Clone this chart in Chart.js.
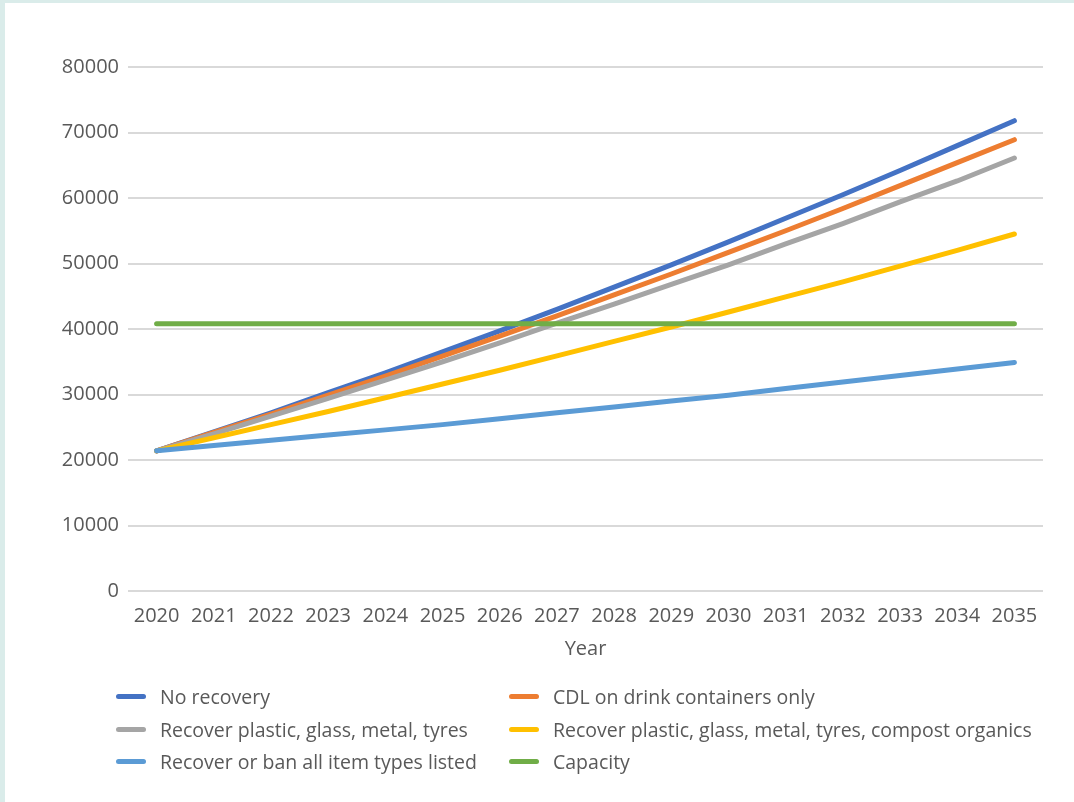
<!DOCTYPE html>
<html lang="en">
<head>
    <meta charset="UTF-8">
    <title>Landfill projection</title>
    <script src="https://cdn.jsdelivr.net/npm/chart.js"></script>
    <style>
        body{margin:0;background:#daecea;width:1074px;height:802px;overflow:hidden;font-family:'Open Sans',sans-serif;}
        .box{position:absolute;left:5px;top:3px;width:1069px;height:799px;background:#fff;}
        .chart-wrap{position:absolute;left:0;top:0;width:1069px;height:658px;}
        .legend{position:absolute;left:0;top:0;width:1069px;height:799px;pointer-events:none;}
        .legend-item{position:absolute;display:flex;align-items:center;color:#595959;font-size:19.5px;white-space:nowrap;}
        .legend-item span.swatch{display:inline-block;width:30px;height:5px;border-radius:3px;margin-right:14px;}
    </style>
</head>
<body>
    <div class="box">
        <div class="chart-wrap"><canvas id="chart"></canvas></div>
        <div class="legend" id="legend"></div>
    </div>
    <script>
        const years = ['2020','2021','2022','2023','2024','2025','2026','2027','2028','2029','2030','2031','2032','2033','2034','2035'];

        const noRecovery = [21400, 24300, 27200, 30300, 33300, 36500, 39700, 43000, 46400, 49800, 53300, 56900, 60500, 64200, 68000, 71800];
        const cdlOnly = [21400, 24200, 27000, 29900, 32800, 35850, 38900, 42000, 45200, 48400, 51700, 55000, 58400, 61900, 65400, 68900];
        const recoverPgmt = [21400, 24000, 26700, 29400, 32200, 35000, 37900, 40900, 43800, 46800, 49800, 53000, 56100, 59400, 62600, 66100];
        const recoverPgmtCompost = [21400, 23400, 25400, 27400, 29500, 31600, 33700, 35900, 38100, 40300, 42600, 44900, 47200, 49600, 52000, 54500];
        const recoverOrBanAll = [21400, 22200, 23000, 23800, 24600, 25400, 26300, 27200, 28100, 29000, 29900, 30900, 31900, 32900, 33900, 34900];
        const capacity = [40800, 40800, 40800, 40800, 40800, 40800, 40800, 40800, 40800, 40800, 40800, 40800, 40800, 40800, 40800, 40800];

        const seriesNames = ['No recovery', 'CDL on drink containers only', 'Recover plastic, glass, metal, tyres', 'Recover plastic, glass, metal, tyres, compost organics', 'Recover or ban all item types listed', 'Capacity'];
        const seriesData = [noRecovery, cdlOnly, recoverPgmt, recoverPgmtCompost, recoverOrBanAll, capacity];
        const seriesColors = ['#4472C4', '#ED7D31', '#A5A5A5', '#FFC000', '#5B9BD5', '#70AD47'];

        const yMax = 80000;
        const yStep = 10000;
        const textColor = '#595959';
        const fontFamily = "'Open Sans', sans-serif";

        const datasets = seriesNames.map((name, i) => ({
            label: name,
            data: seriesData[i],
            borderColor: seriesColors[i],
            backgroundColor: seriesColors[i],
            borderWidth: 5,
            borderCapStyle: 'round',
            borderJoinStyle: 'round',
            pointRadius: 0,
            tension: 0,
            order: seriesNames.length - i
        }));

        new Chart(document.getElementById('chart'), {
            type: 'line',
            data: { labels: years, datasets },
            options: {
                responsive: true,
                maintainAspectRatio: false,
                animation: false,
                layout: { padding: { left: 0, right: 31, top: 64, bottom: 0 } },
                plugins: { legend: { display: false }, tooltip: { enabled: false } },
                scales: {
                    x: {
                        offset: true,
                        grid: { display: false, drawTicks: false },
                        border: { display: false },
                        ticks: { color: textColor, font: { family: fontFamily, size: 20 }, padding: 13, maxRotation: 0, autoSkip: false },
                        title: { display: true, text: 'Year', color: textColor, font: { family: fontFamily, size: 20 }, padding: { top: 4, bottom: 0 } },
                        afterFit: (scale) => { scale.height = 70; }
                    },
                    y: {
                        min: 0,
                        max: yMax,
                        grid: { color: '#d9d9d9', lineWidth: 2, drawTicks: false },
                        border: { display: false },
                        ticks: { stepSize: yStep, color: textColor, font: { family: fontFamily, size: 20 }, padding: 9, callback: (v) => String(v) },
                        afterFit: (scale) => { scale.width = 123; }
                    }
                }
            }
        });

        // legend, two columns like the original
        const legendEl = document.getElementById('legend');
        const colX = [111, 504];
        const rowY = [693, 726, 758];
        seriesNames.forEach((name, i) => {
            const item = document.createElement('div');
            item.className = 'legend-item';
            item.style.left = colX[i % 2] + 'px';
            item.style.top = (rowY[Math.floor(i / 2)] - 12) + 'px';
            item.style.height = '24px';
            item.innerHTML = '<span class="swatch" style="background:' + seriesColors[i] + '"></span>' + name;
            legendEl.appendChild(item);
        });
    </script>
</body>
</html>
